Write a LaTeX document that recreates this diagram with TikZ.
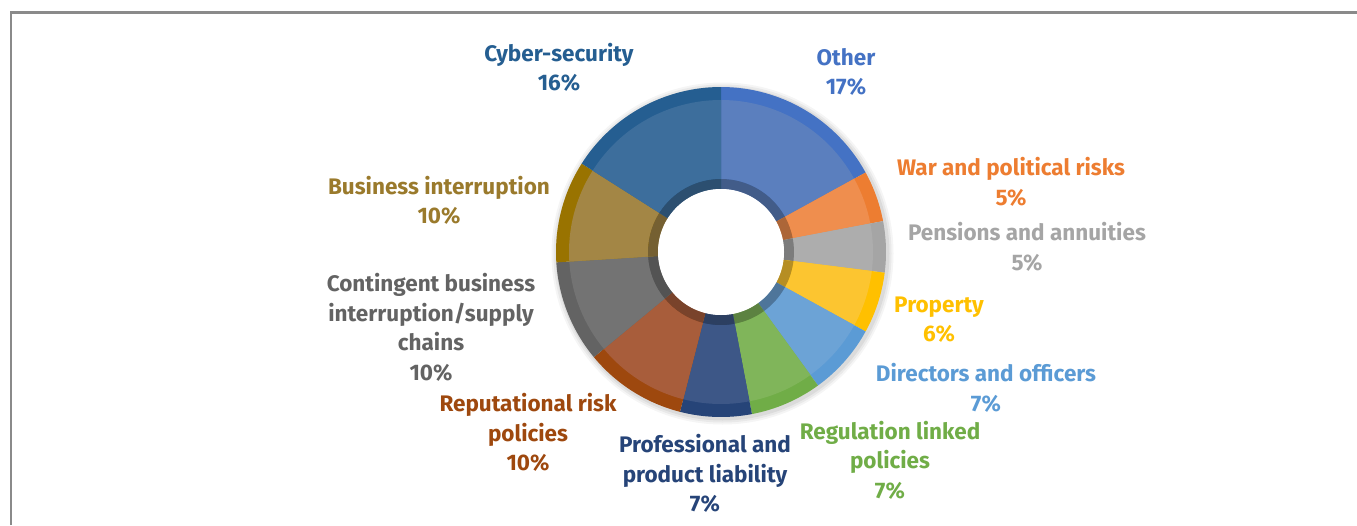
\documentclass[tikz,border=0pt]{standalone}
\usepackage{fontspec}
\setmainfont{Fira Sans}
\definecolor{frame}{HTML}{8A8A8A}
\definecolor{oth}{HTML}{4472C4}\definecolor{othm}{HTML}{5B7FBE}
\definecolor{war}{HTML}{ED7D31}\definecolor{warm}{HTML}{EF8E4E}
\definecolor{pen}{HTML}{A5A5A5}\definecolor{penm}{HTML}{ADADAD}
\definecolor{pro}{HTML}{FFC000}\definecolor{prom}{HTML}{FCC530}
\definecolor{dir}{HTML}{5B9BD5}\definecolor{dirm}{HTML}{6CA3D6}
\definecolor{reg}{HTML}{70AD47}\definecolor{regm}{HTML}{80B55A}
\definecolor{prf}{HTML}{264478}\definecolor{prfm}{HTML}{3D5787}
\definecolor{rep}{HTML}{9E480E}\definecolor{repm}{HTML}{A85D3B}
\definecolor{con}{HTML}{636363}\definecolor{conm}{HTML}{737373}
\definecolor{bus}{HTML}{997300}\definecolor{busm}{HTML}{A38645}
\definecolor{cyb}{HTML}{255E91}\definecolor{cybm}{HTML}{3D6E9C}
\definecolor{bust}{HTML}{9A7A2C}
\begin{document}
\begin{tikzpicture}[x=1pt,y=1pt,
  lbl/.style={font=\bfseries\fontsize{22.5}{29.5}\selectfont, align=center, inner sep=0pt}]
\useasboundingbox (0,0) rectangle (1357,-525);
\draw[line width=2.5, color=frame] (11,-525) -- (11,-12.5) -- (1357,-12.5);
\coordinate (O) at (721,-252);
\foreach \r/\o in {171/0.04,169/0.05,167/0.06}
  \fill[black, opacity=\o] ([shift={(1.5,-1.5)}]O) circle[radius=\r];
\foreach \a/\b/\c/\d in {90/28.8/oth/othm, 28.8/10.8/war/warm, 10.8/-7.2/pen/penm,
  -7.2/-28.8/pro/prom, -28.8/-54/dir/dirm, -54/-79.2/reg/regm, -79.2/-104.4/prf/prfm,
  -104.4/-140.4/rep/repm, -140.4/-176.4/con/conm, -176.4/-212.4/bus/busm, -212.4/-270/cyb/cybm}{
  \fill[\c] ([shift={(O)}]\a:165) arc[start angle=\a, end angle=\b, radius=165]
     -- ([shift={(O)}]\b:63) arc[start angle=\b, end angle=\a, radius=63] -- cycle;
  \fill[\d] ([shift={(O)}]\a:152) arc[start angle=\a, end angle=\b, radius=152]
     -- ([shift={(O)}]\b:73) arc[start angle=\b, end angle=\a, radius=73] -- cycle;
  \fill[\d!72!black] ([shift={(O)}]\a:73) arc[start angle=\a, end angle=\b, radius=73]
     -- ([shift={(O)}]\b:63) arc[start angle=\b, end angle=\a, radius=63] -- cycle;
}
\fill[white] (O) circle[radius=63];
\node[lbl, text=cyb] (cyber) at (559,-67.5) {Cyber-security\\16\%};
\node[lbl, text=oth] (other) at (846,-72) {Other\\17\%};
\node[lbl, text=war] (warl) at (1011,-182) {War and political risks\\5\%};
\node[lbl, text=pen] (pens) at (1027,-247) {Pensions and annuities\\5\%};
\node[lbl, text=pro] (prop) at (939,-319.5) {Property\\6\%};
\node[lbl, text=dir] (dirl) at (986,-388) {Directors and officers\\7\%};
\node[lbl, text=reg] (regl) at (890,-460) {Regulation linked\\policies\\7\%};
\node[lbl, text=prf] (prof) at (705,-473.5) {Professional and\\product liability\\7\%};
\node[lbl, text=rep] (repl) at (528,-432.5) {Reputational risk\\policies\\10\%};
\node[lbl, text=con] (cont) at (431,-327.5) {Contingent business\\interruption/supply\\chains\\10\%};
\node[lbl, text=bust] (busi) at (439,-200.5) {Business interruption\\10\%};
\end{tikzpicture}
\end{document}
